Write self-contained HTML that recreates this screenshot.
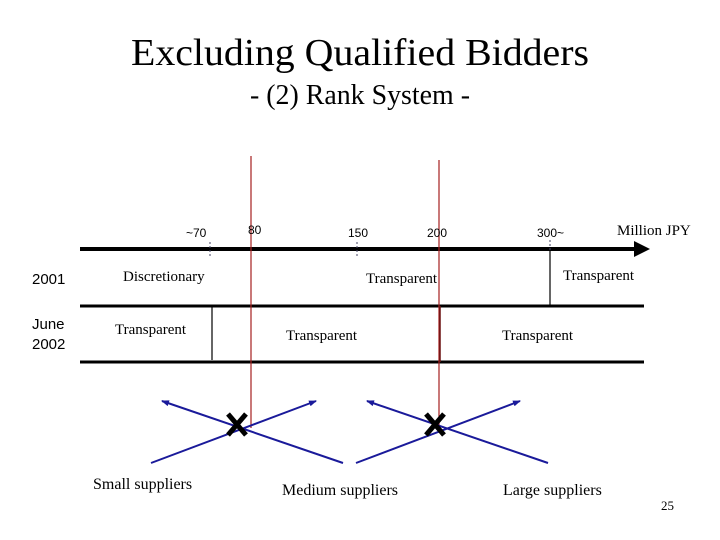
<!DOCTYPE html>
<html><head><meta charset="utf-8"><style>
html,body{margin:0;padding:0;background:#fff;}
svg{display:block;}
.s{font-family:"Liberation Serif",serif;fill:#000;}
.a{font-family:"Liberation Sans",sans-serif;fill:#000;}
</style></head><body>
<svg width="720" height="540" viewBox="0 0 720 540" xmlns="http://www.w3.org/2000/svg">
<defs>
<marker id="bh" markerWidth="8" markerHeight="6" refX="7" refY="3" orient="auto" markerUnits="userSpaceOnUse">
<path d="M0,0 L8,3 L0,6 z" fill="#1a1a9a"/></marker>
</defs>
<text class="s" x="360" y="65" font-size="38" text-anchor="middle" textLength="458" lengthAdjust="spacingAndGlyphs">Excluding Qualified Bidders</text>
<text class="s" x="360" y="104" font-size="28" text-anchor="middle" textLength="220" lengthAdjust="spacingAndGlyphs">- (2) Rank System -</text>

<!-- axis -->
<line x1="80" y1="249" x2="636" y2="249" stroke="#000" stroke-width="4"/>
<path d="M634,241 L650,249 L634,257 z" fill="#000"/>
<line x1="80" y1="306" x2="644" y2="306" stroke="#000" stroke-width="3"/>
<line x1="80" y1="362" x2="644" y2="362" stroke="#000" stroke-width="3"/>
<line x1="212" y1="305" x2="212" y2="360" stroke="#000" stroke-width="1.2"/>
<line x1="550" y1="250" x2="550" y2="306" stroke="#000" stroke-width="1.2"/>
<g stroke="#446" stroke-width="1" stroke-dasharray="2,2">
<line x1="210" y1="242" x2="210" y2="256"/>
<line x1="357" y1="242" x2="357" y2="256"/>
<line x1="439" y1="242" x2="439" y2="256"/>
<line x1="550" y1="240" x2="550" y2="250"/>
</g>
<!-- red lines -->
<line x1="251" y1="156" x2="251" y2="428" stroke="#a52020" stroke-width="1.2"/>
<line x1="439" y1="160" x2="439" y2="428" stroke="#a52020" stroke-width="1.2"/>
<line x1="440" y1="306" x2="440" y2="362" stroke="#6a1010" stroke-width="1.5"/>

<text class="a" x="186" y="237" font-size="12">~70</text>
<text class="a" x="248" y="234" font-size="12">80</text>
<text class="a" x="348" y="237" font-size="12">150</text>
<text class="a" x="427" y="237" font-size="12">200</text>
<text class="a" x="537" y="237" font-size="12">300~</text>
<text class="s" x="617" y="235" font-size="15">Million JPY</text>

<text class="a" x="32" y="284" font-size="15">2001</text>
<text class="a" x="32" y="329" font-size="15">June</text>
<text class="a" x="32" y="349" font-size="15">2002</text>

<text class="s" x="123" y="281" font-size="15">Discretionary</text>
<text class="s" x="366" y="283" font-size="15">Transparent</text>
<text class="s" x="563" y="280" font-size="15">Transparent</text>
<text class="s" x="115" y="334" font-size="15">Transparent</text>
<text class="s" x="286" y="340" font-size="15">Transparent</text>
<text class="s" x="502" y="340" font-size="15">Transparent</text>

<!-- blue arrows -->
<g stroke="#1a1a9a" stroke-width="2" fill="none">
<line x1="151" y1="463" x2="316" y2="401" marker-end="url(#bh)"/>
<line x1="343" y1="463" x2="162" y2="401" marker-end="url(#bh)"/>
<line x1="356" y1="463" x2="520" y2="401" marker-end="url(#bh)"/>
<line x1="548" y1="463" x2="367" y2="401" marker-end="url(#bh)"/>
</g>
<g stroke="#000" stroke-width="5">
<line x1="228" y1="414" x2="246" y2="435"/><line x1="246" y1="414" x2="228" y2="435"/>
<line x1="426" y1="414" x2="444" y2="435"/><line x1="444" y1="414" x2="426" y2="435"/>
</g>

<text class="s" x="93" y="489" font-size="16">Small suppliers</text>
<text class="s" x="282" y="495" font-size="16">Medium suppliers</text>
<text class="s" x="503" y="495" font-size="16">Large suppliers</text>
<text class="s" x="661" y="510" font-size="13">25</text>
</svg>
</body></html>
